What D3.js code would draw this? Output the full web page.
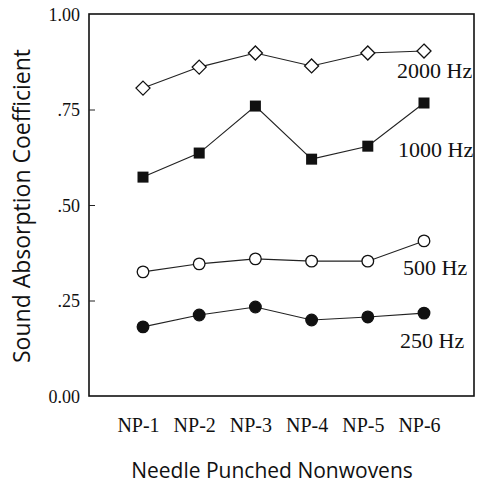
<!DOCTYPE html>
<html>
<head>
<meta charset="utf-8">
<script src="https://cdn.jsdelivr.net/npm/d3@7"></script>
<style>
  html, body { margin: 0; padding: 0; background: #fff; }
  svg { display: block; }
</style>
</head>
<body>
<svg id="chart" width="478" height="493"></svg>
<script>
const categories = ["NP-1", "NP-2", "NP-3", "NP-4", "NP-5", "NP-6"];
const hz2000 = [0.806, 0.861, 0.898, 0.864, 0.898, 0.903];
const hz1000 = [0.573, 0.636, 0.759, 0.620, 0.654, 0.767];
const hz500  = [0.325, 0.346, 0.359, 0.353, 0.353, 0.406];
const hz250  = [0.181, 0.212, 0.233, 0.199, 0.207, 0.217];
const seriesNames = ["2000 Hz", "1000 Hz", "500 Hz", "250 Hz"];
const yTickValues = [0, 0.25, 0.5, 0.75, 1.0];
const yTickLabels = ["0.00", ".25", ".50", ".75", "1.00"];

const svg = d3.select("#chart");
const frame = { left: 89, right: 474, top: 14, bottom: 396 };

const x = d3.scalePoint().domain(categories).range([143, 424]);
const y = d3.scaleLinear().domain([0, 1]).range([frame.bottom, frame.top]);

const serif = "'Liberation Serif', 'Times New Roman', serif";
const sans = "'Open Sans', 'Noto Sans', sans-serif";

// frame
svg.append("rect")
  .attr("x", frame.left).attr("y", frame.top)
  .attr("width", frame.right - frame.left)
  .attr("height", frame.bottom - frame.top)
  .attr("fill", "none").attr("stroke", "#111").attr("stroke-width", 1.6);

// y axis (inward ticks)
const yAxis = d3.axisRight(y)
  .tickValues(yTickValues)
  .tickSize(6)
  .tickFormat((d, i) => yTickLabels[i]);
const gy = svg.append("g").attr("transform", `translate(${frame.left},0)`).call(yAxis);
gy.select(".domain").remove();
gy.selectAll(".tick line").attr("stroke", "#222").attr("stroke-width", 1);
gy.selectAll(".tick text")
  .attr("x", -9).attr("dy", "0.35em")
  .attr("text-anchor", "end")
  .style("font-family", serif).style("font-size", "18px").attr("fill", "#111");
gy.selectAll(".tick").filter(d => d === 0 || d === 1).select("line").remove();

// x axis labels
const xAxis = d3.axisBottom(x).tickSize(0).tickPadding(0);
const gx = svg.append("g").attr("transform", `translate(0,${frame.bottom})`).call(xAxis);
gx.select(".domain").remove();
gx.selectAll(".tick text")
  .attr("x", -5).attr("y", 36).attr("dy", 0)
  .style("font-family", serif).style("font-size", "20px").attr("fill", "#111");

// axis titles
svg.append("text")
  .attr("transform", `translate(30,${206}) rotate(-90)`)
  .attr("text-anchor", "middle")
  .style("font-family", sans).style("font-size", "23px").attr("fill", "#111")
  .text("Sound Absorption Coefficient");
svg.append("text")
  .attr("x", 272).attr("y", 478)
  .attr("text-anchor", "middle")
  .style("font-family", sans).style("font-size", "21px").attr("fill", "#111")
  .text("Needle Punched Nonwovens");

const line = d3.line().x((d, i) => x(categories[i])).y(d => y(d));

const series = [
  { name: seriesNames[0], values: hz2000, marker: "diamond", fill: "#fff", lx: 397, ly: 78 },
  { name: seriesNames[1], values: hz1000, marker: "square", fill: "#111", lx: 398, ly: 157 },
  { name: seriesNames[2], values: hz500, marker: "circle", fill: "#fff", lx: 403, ly: 275 },
  { name: seriesNames[3], values: hz250, marker: "circle", fill: "#111", lx: 400, ly: 348 }
];

series.forEach(s => {
  svg.append("path").datum(s.values)
    .attr("d", line).attr("fill", "none")
    .attr("stroke", "#222").attr("stroke-width", 1.1);
  const g = svg.append("g");
  s.values.forEach((v, i) => {
    const cx = x(categories[i]), cy = y(v);
    if (s.marker === "circle") {
      g.append("circle").attr("cx", cx).attr("cy", cy).attr("r", 5.8)
        .attr("fill", s.fill).attr("stroke", "#111").attr("stroke-width", 1.3);
    } else if (s.marker === "square") {
      g.append("rect").attr("x", cx - 5.5).attr("y", cy - 5.5)
        .attr("width", 11).attr("height", 11).attr("fill", s.fill);
    } else {
      const h = 7;
      g.append("path")
        .attr("d", `M${cx},${cy - h}L${cx + h},${cy}L${cx},${cy + h}L${cx - h},${cy}Z`)
        .attr("fill", s.fill).attr("stroke", "#111").attr("stroke-width", 1.3);
    }
  });
  svg.append("text")
    .attr("x", s.lx).attr("y", s.ly)
    .style("font-family", serif).style("font-size", "22px").attr("fill", "#111")
    .text(s.name);
});
</script>
</body>
</html>
